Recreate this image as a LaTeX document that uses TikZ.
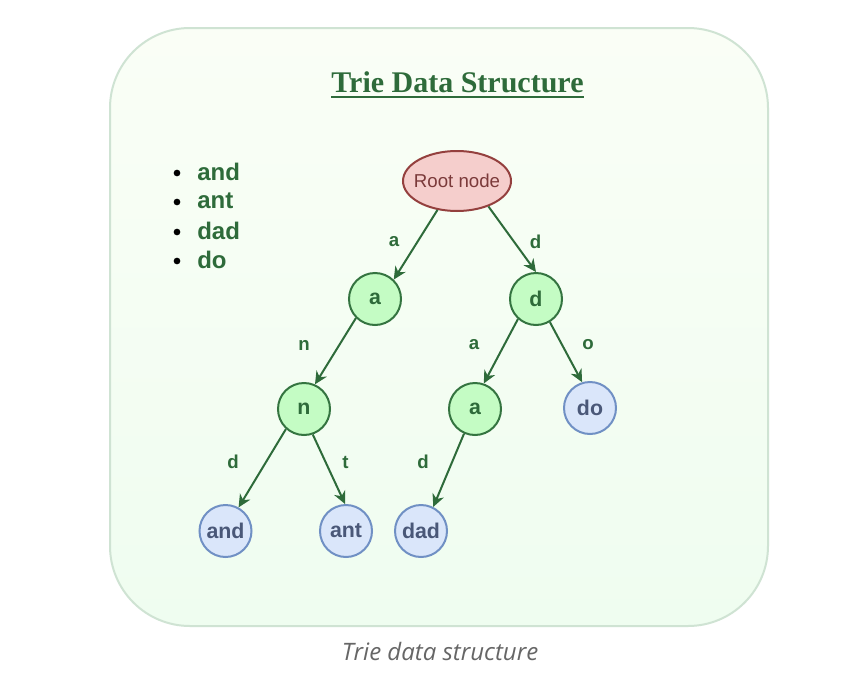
\documentclass[tikz,border=0pt]{standalone}
\usepackage{fontspec}
\setmainfont{Liberation Sans}
\newfontfamily\titlefont{Liberation Serif}
\newfontfamily\capfont{Open Sans}
\usetikzlibrary{shapes.geometric,arrows.meta}
\definecolor{boxtop}{HTML}{FAFEF6}
\definecolor{boxbot}{HTML}{EFFDF0}
\definecolor{boxline}{HTML}{CFE3D3}
\definecolor{dkgreen}{HTML}{2E6B3A}
\definecolor{gfill}{HTML}{C4FCC4}
\definecolor{gline}{HTML}{347440}
\definecolor{bfill}{HTML}{DAE6FA}
\definecolor{bline}{HTML}{7090C4}
\definecolor{btext}{HTML}{4A5878}
\definecolor{rfill}{HTML}{F5CECC}
\definecolor{rline}{HTML}{94403E}
\definecolor{rtext}{HTML}{7B3A3A}
\definecolor{captext}{HTML}{666666}
\begin{document}
\begin{tikzpicture}[x=0.75pt,y=-0.75pt,
  gnode/.style={circle,draw=gline,fill=gfill,line width=1.5pt,minimum size=39pt,inner sep=0pt,
    text=dkgreen,font=\fontsize{16}{18}\selectfont\bfseries},
  bnode/.style={circle,draw=bline,fill=bfill,line width=1.5pt,minimum size=39pt,inner sep=0pt,
    text=btext,font=\fontsize{16}{18}\selectfont\bfseries},
  edge/.style={draw=dkgreen,line width=1.5pt,-{Stealth[length=9.5pt,width=9pt,inset=3pt]}},
  elabel/.style={text=dkgreen,font=\fontsize{14}{16}\selectfont\bfseries,inner sep=0pt},
  witem/.style={text=dkgreen,font=\fontsize{18}{21}\selectfont\bfseries,anchor=west,inner sep=0pt},
  dot/.style={circle,fill=black,inner sep=0pt,minimum size=5pt}]
\useasboundingbox (0,0) rectangle (850,700);
\fill[white] (0,0) rectangle (850,700);
\shadedraw[top color=boxtop,bottom color=boxbot,draw=boxline,line width=1.5pt,rounded corners=60pt]
  (110,28) rectangle (768,626);
% title
\node[text=dkgreen,font=\titlefont\fontsize{22.5}{26}\selectfont\bfseries,anchor=base,inner sep=0pt]
  (title) at (457.5,92) {Trie Data Structure};
\draw[dkgreen,line width=1.4pt] ([yshift=-3.8pt]title.base west) -- ([yshift=-3.8pt]title.base east);
% word list
\node[dot] (b1) at (177,173) {};
\node[dot] (b2) at (177,202) {};
\node[dot] (b3) at (177,232) {};
\node[dot] (b4) at (177,261) {};
\node[witem] (w1) at (197,172) {and};
\node[witem] (w2) at (197,201) {ant};
\node[witem] (w3) at (197,231) {dad};
\node[witem] (w4) at (197,260) {do};
% nodes
\node[ellipse,draw=rline,fill=rfill,line width=1.5pt,minimum width=81pt,minimum height=45pt,
  inner xsep=-12pt,inner ysep=0pt,
  text=rtext,font=\fontsize{14}{16}\selectfont] (root) at (457,181) {Root node};
\node[gnode] (a1) at (375,299) {a};
\node[gnode] (d1) at (536,299) {d};
\node[gnode] (n) at (304,409) {n};
\node[gnode] (a2) at (475,409) {a};
\node[bnode] (wDo) at (590,408) {do};
\node[bnode] (wAnd) at (225.5,531) {and};
\node[bnode] (wAnt) at (346,531) {ant};
\node[bnode] (wDad) at (421,531) {dad};
% edges
\draw[edge] (root.236) -- (a1.46);
\draw[edge] (root.321) -- (d1.90);
\draw[edge] (a1.225) -- (n.66);
\draw[edge] (d1.228) -- (a2.71);
\draw[edge] (d1.301) -- (wDo.107);
\draw[edge] (n.228) -- (wAnd.61);
\draw[edge] (n.289) -- (wAnt.92);
\draw[edge] (a2.246) -- (wDad.63);
% edge labels
\node[elabel] (la1) at (394,242) {a};
\node[elabel] (ld1) at (535.5,242) {d};
\node[elabel] (ln) at (304,345) {n};
\node[elabel] (la2) at (474,345) {a};
\node[elabel] (lo) at (588,345) {o};
\node[elabel] (ld2) at (233,462) {d};
\node[elabel] (lt) at (345.5,462) {t};
\node[elabel] (ld3) at (423,462) {d};
% caption
\node[text=captext,font=\capfont\itshape\fontsize{18}{21}\selectfont,inner sep=0pt] (cap) at (440,651) {Trie data structure};
\end{tikzpicture}
\end{document}
